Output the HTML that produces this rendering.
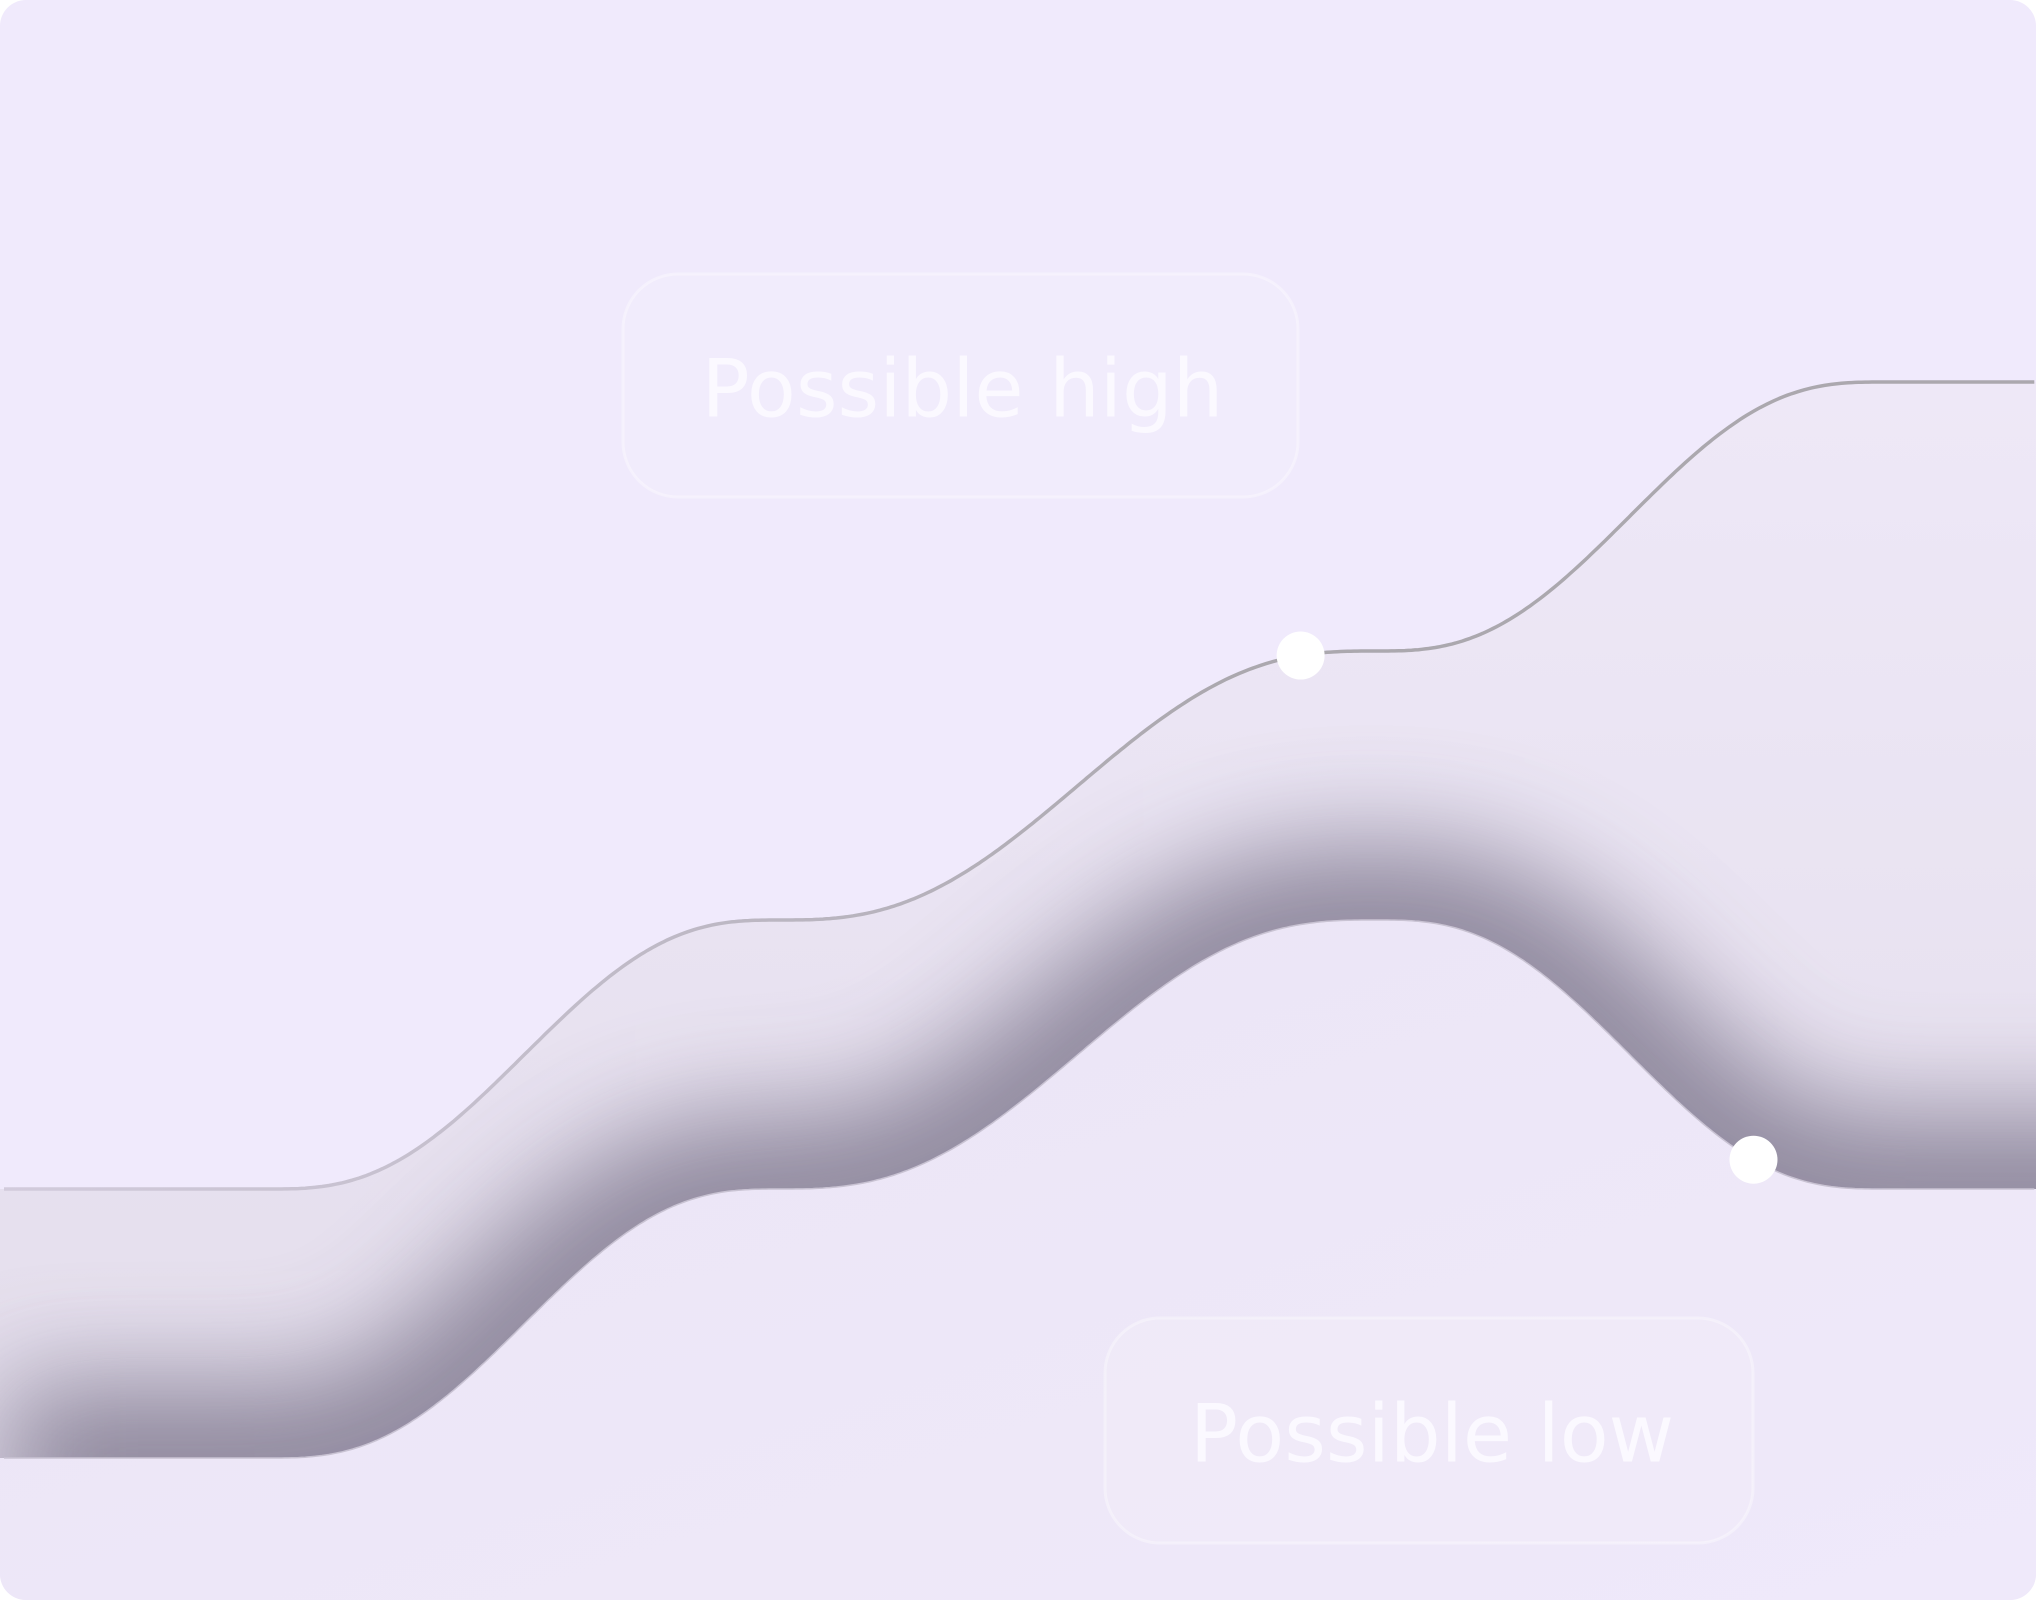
<!DOCTYPE html>
<html><head><meta charset="utf-8"><style>
html,body{margin:0;padding:0;background:#fff;}
#wrap{position:relative;width:2036px;height:1600px;border-radius:26px;overflow:hidden;background:#f0eafc;}
svg{position:absolute;left:0;top:0;}
</style></head><body>
<div id="wrap">
<svg id="chart" width="2036" height="1600">
<defs>
<filter id="blur" x="-20%" y="-60%" width="140%" height="220%"><feGaussianBlur stdDeviation="55"/></filter>
<linearGradient id="bandFill" x1="0" y1="0" x2="0" y2="1">
<stop offset="0" stop-color="#eee8f7"/><stop offset="1" stop-color="#e4deec"/></linearGradient>
<linearGradient id="belowFill" x1="0" y1="0" x2="1" y2="1">
<stop offset="0" stop-color="#ebe5f5"/><stop offset="1" stop-color="#efe9fa"/></linearGradient>
<linearGradient id="lineGrad" x1="0" y1="0" x2="1" y2="0">
<stop offset="0" stop-color="#d2cbdc"/><stop offset="0.35" stop-color="#bdb8c4"/><stop offset="0.6" stop-color="#aba8ae"/><stop offset="1" stop-color="#aba8ae"/></linearGradient>
<clipPath id="bandClip"><path id="bandClipPath"/></clipPath>
</defs>
<g id="layer"></g>
</svg>
</div>
<script>
const stageT = [0, 2.1, 6.13, 10.85, 14.85, 16.05];
const highValues = [1, 1, 2, 3, 4, 4];
const lowValues = [0, 0, 1, 2, 1, 1];
const markerT = [10.25, 13.83];
const markerSeries = ['high', 'low'];

const xs = t => 4 + t * 126.5;
const ys = v => 1458 - 269 * v;
function valAt(vals, t){
  for(let i=0;i<stageT.length-1;i++){
    if(t<=stageT[i+1]){
      const u=Math.max(0,(t-stageT[i])/(stageT[i+1]-stageT[i]));
      const s=u*u*u*(u*(6*u-15)+10);
      return vals[i]+(vals[i+1]-vals[i])*s;
    }
  }
  return vals[vals.length-1];
}
function pts(vals, shift){
  const out=[];
  const t0=stageT[0], t1=stageT[stageT.length-1];
  for(let k=0;k<=600;k++){const t=t0+(t1-t0)*k/600;out.push([xs(t),ys(valAt(vals,t))+(shift||0)]);}
  return out;
}
const toD = p => 'M'+p.map(q=>q[0].toFixed(1)+','+q[1].toFixed(1)).join('L');
const NS='http://www.w3.org/2000/svg';
const layer=document.getElementById('layer');
function mk(tag, attrs){const e=document.createElementNS(NS,tag);for(const k in attrs)e.setAttribute(k,attrs[k]);layer.appendChild(e);return e;}

const hi=pts(highValues), lo=pts(lowValues);
const belowD=toD(lo)+'L2036,'+lo[lo.length-1][1]+'L2036,1600L0,1600L0,'+lo[0][1]+'Z';
let e=mk('path',{d:belowD,fill:'url(#belowFill)'});


const bandD=toD(hi)+'L2036,'+hi[hi.length-1][1]+'L2036,'+lo[lo.length-1][1]+toD(lo.slice().reverse()).replace('M','L')+'L0,'+lo[0][1]+'L0,'+hi[0][1]+'Z';
document.getElementById('bandClipPath').setAttribute('d',bandD);
e=mk('path',{d:bandD,fill:'url(#bandFill)'});


const g=mk('g',{'clip-path':'url(#bandClip)'});
const sh=document.createElementNS(NS,'path');
sh.setAttribute('d',toD(pts(lowValues,10))+'L2300,'+(lo[lo.length-1][1]+10));
sh.setAttribute('fill','none');sh.setAttribute('stroke','#7f788e');sh.setAttribute('stroke-width','170');
sh.setAttribute('opacity','0.85');sh.setAttribute('filter','url(#blur)');
g.appendChild(sh);
e=mk('path',{d:toD(lo),fill:'none',stroke:'#c9c3d3','stroke-width':'1.5'});


e=mk('path',{d:toD(hi),fill:'none',stroke:'url(#lineGrad)','stroke-width':'3.5'});


markerT.forEach((t,i)=>{
  const vals=markerSeries[i]==='high'?highValues:lowValues;
  const c=mk('circle',{cx:xs(t),cy:ys(valAt(vals,t)),r:24,fill:'#ffffff'});
  
  
});
function label(x,y,w,h,text,name,dx){
  const r=mk('rect',{x:x,y:y,width:w,height:h,rx:55,fill:'rgba(255,255,255,0.12)',stroke:'rgba(255,255,255,0.35)','stroke-width':'3'});
  
  
  const tx=mk('text',{x:x+w/2+dx,y:y+h/2+31,'text-anchor':'middle','font-family':'"DejaVu Sans","Liberation Sans",sans-serif','font-size':'80',fill:'#fbf9ff'});
  tx.textContent=text;
  
  
}
label(623,274,675,223,'Possible high','possible-high-label',2);
label(1105,1318,648,225,'Possible low','possible-low-label',3);
</script>
</body></html>
